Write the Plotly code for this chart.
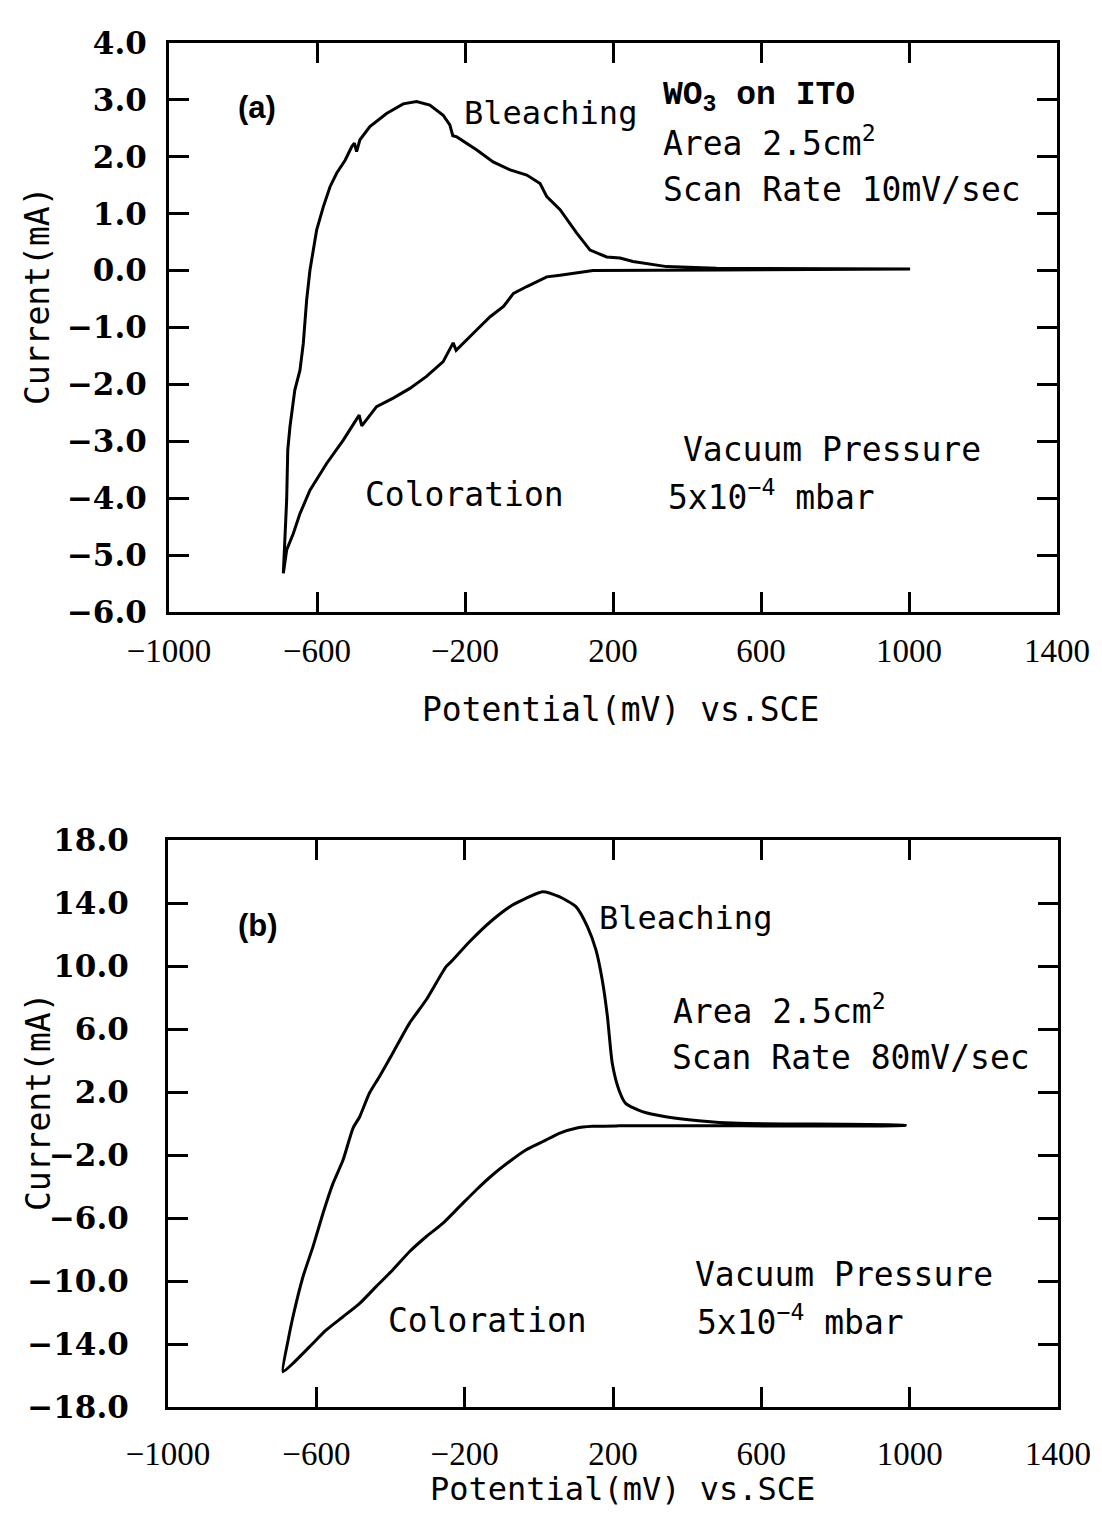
import plotly.graph_objects as go

PAGE_W, PAGE_H = 1102, 1518
OFF = 8                      # default body margin of the html page
W, H = PAGE_W - 2 * OFF, PAGE_H - 2 * OFF

# ---------------- data: panel (a)  (10 mV/s) ----------------
a_pot_anodic = [-691, -682, -679, -673, -660, -646, -637, -628, -619, -601,
                -583, -565, -547, -524, -506, -499, -493, -484, -457, -412,
                -367, -331, -295, -259, -241, -233, -222, -168, -124, -78,
                -33, 3, 21, 57, 102, 138, 183, 219, 254, 345, 480, 1003]
a_cur_anodic = [-5.32, -4.03, -3.15, -2.74, -2.10, -1.75, -1.28, -0.52, 0.01, 0.71,
                1.12, 1.47, 1.71, 1.94, 2.18, 2.24, 2.09, 2.30, 2.53, 2.76,
                2.93, 2.97, 2.91, 2.73, 2.56, 2.37, 2.35, 2.12, 1.91, 1.77,
                1.68, 1.53, 1.30, 1.07, 0.66, 0.36, 0.24, 0.22, 0.16, 0.07, 0.04, 0.03]
a_pot_cathodic = [1003, 489, 219, 146, 57, 21, -33, -69, -96, -132,
                  -168, -224, -232, -259, -304, -349, -394, -439, -479, -486,
                  -529, -574, -619, -646, -664, -682, -691]
a_cur_cathodic = [0.03, 0.01, 0.01, 0.0, -0.08, -0.11, -0.28, -0.40, -0.63, -0.81,
                  -1.04, -1.40, -1.27, -1.60, -1.86, -2.07, -2.24, -2.39, -2.73, -2.54,
                  -2.98, -3.39, -3.86, -4.27, -4.62, -4.91, -5.32]

# ---------------- data: panel (b)  (80 mV/s) ----------------
b_pot_anodic = [-690, -676, -663, -636, -609, -582, -555, -528, -501, -483,
                -457, -430, -394, -349, -304, -250, -232, -187, -125, -71,
                -35, 10, 55, 100, 131, 154, 171, 185, 198, 216,
                234, 279, 342, 431, 539, 988]
b_cur_anodic = [-15.76, -13.75, -12.27, -9.73, -7.82, -5.70, -3.80, -2.32, -0.29, 0.43,
                1.92, 2.97, 4.46, 6.36, 7.84, 9.96, 10.38, 11.54, 12.92, 13.87,
                14.30, 14.72, 14.40, 13.77, 12.50, 11.02, 9.11, 6.78, 3.82, 2.13,
                1.28, 0.75, 0.43, 0.18, 0.01, -0.10]
b_pot_cathodic = [988, 547, 216, 144, 100, 55, 10, -35, -80, -125,
                  -169, -214, -259, -304, -349, -394, -439, -483, -528, -573,
                  -618, -663, -690]
b_cur_cathodic = [-0.12, -0.15, -0.15, -0.18, -0.30, -0.62, -1.16, -1.68, -2.43, -3.27,
                  -4.22, -5.28, -6.34, -7.19, -8.14, -9.30, -10.36, -11.42, -12.27, -13.11,
                  -14.17, -15.23, -15.76]

# ---------------- ticks ----------------
x_ticks = [-1000, -600, -200, 200, 600, 1000, 1400]
a_yticks = [4, 3, 2, 1, 0, -1, -2, -3, -4, -5, -6]
b_yticks = [18, 14, 10, 6, 2, -2, -6, -10, -14, -18]

fig = go.Figure()
fig.add_trace(go.Scatter(
    x=a_pot_anodic + a_pot_cathodic, y=a_cur_anodic + a_cur_cathodic,
    mode="lines", line=dict(color="black", width=3), xaxis="x", yaxis="y",
    showlegend=False, hoverinfo="skip"))
fig.add_trace(go.Scatter(
    x=b_pot_anodic + b_pot_cathodic, y=b_cur_anodic + b_cur_cathodic,
    mode="lines", line=dict(color="black", width=3, shape="spline", smoothing=0.6),
    xaxis="x2", yaxis="y2", showlegend=False, hoverinfo="skip"))


def fx(p):
    return (p - OFF) / W


def fy(p):
    return 1 - (p - OFF) / H


common = dict(showline=True, linecolor="black", linewidth=3, mirror="allticks",
              ticks="inside", ticklen=20, tickwidth=2.5, tickcolor="black",
              showgrid=False, zeroline=False, fixedrange=True, automargin=False)
xfont = dict(family="Liberation Serif", size=33, color="black")
yfont = dict(family="DejaVu Serif", size=31, color="black", weight="bold")

fig.update_layout(
    width=W, height=H, paper_bgcolor="white", plot_bgcolor="white",
    margin=dict(l=0, r=0, t=0, b=0, autoexpand=False),
    xaxis=dict(domain=[fx(169), fx(1057)], range=[-1000, 1400], tickvals=x_ticks,
               anchor="y", tickfont=xfont, ticklabelstandoff=7, **common),
    yaxis=dict(domain=[fy(612), fy(43)], range=[-6, 4], tickvals=a_yticks,
               tickformat=".1f", anchor="x", tickfont=yfont, ticklabelstandoff=13, **common),
    xaxis2=dict(domain=[fx(168), fx(1058)], range=[-1000, 1400], tickvals=x_ticks,
                anchor="y2", tickfont=xfont, ticklabelstandoff=15, **common),
    yaxis2=dict(domain=[fy(1407), fy(840)], range=[-18, 18], tickvals=b_yticks,
                tickformat=".1f", anchor="x2", tickfont=yfont, ticklabelstandoff=30, **common),
)

mono = "DejaVu Sans Mono"
anns = []


def add(text, xpx, ypx, size=33, family=mono, weight="normal", anchor="left", angle=0):
    anns.append(dict(text=text, x=fx(xpx), y=fy(ypx), xref="paper", yref="paper",
                     xanchor=anchor, yanchor="middle", showarrow=False, textangle=angle,
                     font=dict(family=family, size=size, color="black", weight=weight)))


# panel (a)
add("(a)", 236, 108, size=31, family="Liberation Sans", weight="bold")
add("Bleaching", 462, 113, size=32)
add("WO<sub>3</sub> on ITO", 661, 97, size=33, family="Liberation Mono", weight="bold")
add("Area 2.5cm<sup>2</sup>", 661, 142)
add("Scan Rate 10mV/sec", 661, 190)
add("Vacuum Pressure", 681, 450)
add("5x10<sup>−4</sup> mbar", 666, 495)
add("Coloration", 363, 494)
add("Current(mA)", 38, 296, size=33, anchor="center", angle=-90)
add("Potential(mV) vs.SCE", 621, 710, size=33, anchor="center")

# panel (b)
add("(b)", 236, 925, size=31, family="Liberation Sans", weight="bold")
add("Bleaching", 597, 918, size=32)
add("Area 2.5cm<sup>2</sup>", 671, 1009)
add("Scan Rate 80mV/sec", 670, 1057)
add("Vacuum Pressure", 693, 1274)
add("5x10<sup>−4</sup> mbar", 695, 1320)
add("Coloration", 386, 1320)
add("Current(mA)", 38, 1102, size=33, anchor="center", angle=-90)
add("Potential(mV) vs.SCE", 622, 1489, size=32, anchor="center")

fig.update_layout(annotations=anns)
fig.write_html("out.html")
